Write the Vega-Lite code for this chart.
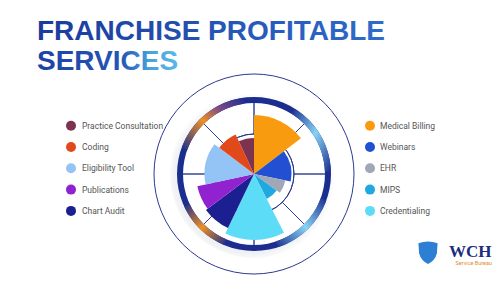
{
  "$schema": "https://vega.github.io/schema/vega-lite/v6.json",
  "width": 492,
  "height": 216,
  "autosize": {"type": "none"},
  "padding": {"left": 8, "top": 66, "right": 0, "bottom": 0},
  "background": "#ffffff",
  "title": {
    "text": "FRANCHISE PROFITABLE",
    "subtitle": "SERVICES",
    "anchor": "start",
    "frame": "group",
    "dx": 29,
    "offset": -10,
    "font": "Liberation Sans",
    "fontSize": 28,
    "fontWeight": "bold",
    "color": {"value": {"gradient": "linear", "x1": 0, "y1": 0, "x2": 1, "y2": 0, "stops": [{"offset": 0, "color": "#1a3b9c"}, {"offset": 1, "color": "#2f6ccb"}]}},
    "subtitleFont": "Liberation Sans",
    "subtitleFontSize": 28,
    "subtitleFontWeight": "bold",
    "subtitleColor": {"value": {"gradient": "linear", "x1": 0, "y1": 0, "x2": 1, "y2": 0, "stops": [{"offset": 0, "color": "#1d43a4"}, {"offset": 0.6, "color": "#2555b4"}, {"offset": 0.8, "color": "#4aa2dd"}, {"offset": 1, "color": "#5bb8e8"}]}},
    "subtitlePadding": 2
  },
  "data": {
    "values": [
      {"service": "Medical Billing", "side": "right", "angle": 52.7, "value": 59},
      {"service": "Webinars", "side": "right", "angle": 48.9, "value": 37.5},
      {"service": "EHR", "side": "right", "angle": 24.4, "value": 32},
      {"service": "MIPS", "side": "right", "angle": 27, "value": 28},
      {"service": "Credentialing", "side": "right", "angle": 52.7, "value": 66},
      {"service": "Chart Audit", "side": "left", "angle": 27.5, "value": 60},
      {"service": "Publications", "side": "left", "angle": 24.6, "value": 58},
      {"service": "Eligibility Tool", "side": "left", "angle": 49.2, "value": 49.5},
      {"service": "Coding", "side": "left", "angle": 28, "value": 43.5},
      {"service": "Practice Consultation", "side": "left", "angle": 25, "value": 36}
    ]
  },
  "layer": [
    {
      "data": {"values": [{"part": "shadow"}]},
      "mark": {"type": "arc", "theta": 0, "theta2": 6.2832, "radius": 84, "radius2": 0,
        "fill": {"gradient": "radial", "x1": 0.48, "y1": 0.52, "r1": 0, "x2": 0.48, "y2": 0.52, "r2": 0.5,
          "stops": [{"offset": 0, "color": "rgba(100,112,140,0.10)"}, {"offset": 0.9, "color": "rgba(100,112,140,0.10)"}, {"offset": 1, "color": "rgba(100,112,140,0)"}]}},
      "encoding": {}
    },
    {
      "data": {"values": [{"part": "face"}]},
      "mark": {"type": "arc", "theta": 0, "theta2": 6.2832, "radius": 71, "radius2": 0, "fill": "#ffffff"},
      "encoding": {}
    },
    {
      "data": {"values": [{"angle": 0}, {"angle": 45}, {"angle": 90}, {"angle": 135}, {"angle": 180}, {"angle": 225}, {"angle": 270}, {"angle": 315}]},
      "mark": {"type": "arc", "radius": 72, "radius2": 40, "filled": false, "stroke": "#2b3a8f", "strokeWidth": 0.9},
      "encoding": {
        "theta": {"field": "angle", "type": "quantitative", "scale": {"domain": [0, 360]}},
        "theta2": {"field": "angle"}
      }
    },
    {
      "data": {"values": [{"r": 40}, {"r": 60}]},
      "mark": {"type": "arc", "theta": 0, "theta2": 6.2832, "filled": false, "stroke": "#2b3a8f", "strokeWidth": 1},
      "encoding": {
        "radius": {"field": "r", "type": "quantitative", "scale": {"type": "linear", "domain": [0, 77], "range": [0, 77]}}
      }
    },
    {
      "data": {"values": [{"part": "ring"}]},
      "mark": {"type": "arc", "theta": 0, "theta2": 6.2832, "radius": 77, "radius2": 71, "fill": "#1b2d8f"},
      "encoding": {}
    },
    {
      "data": {"values": [{"from": 290, "to": 352}]},
      "mark": {"type": "arc", "radius": 77, "radius2": 71,
        "fill": {"gradient": "linear", "x1": 0, "y1": 1, "x2": 1, "y2": 0, "stops": [{"offset": 0, "color": "#1b2d8f"}, {"offset": 0.45, "color": "#f0901e"}, {"offset": 0.7, "color": "#7a4a86"}, {"offset": 1, "color": "#1b2d8f"}]}},
      "encoding": {
        "theta": {"field": "from", "type": "quantitative", "scale": {"domain": [0, 360]}},
        "theta2": {"field": "to"}
      }
    },
    {
      "data": {"values": [{"from": 203, "to": 245}]},
      "mark": {"type": "arc", "radius": 77, "radius2": 71,
        "fill": {"gradient": "linear", "x1": 1, "y1": 1, "x2": 0, "y2": 0, "stops": [{"offset": 0, "color": "#1b2d8f"}, {"offset": 0.5, "color": "#f0901e"}, {"offset": 1, "color": "#1b2d8f"}]}},
      "encoding": {
        "theta": {"field": "from", "type": "quantitative", "scale": {"domain": [0, 360]}},
        "theta2": {"field": "to"}
      }
    },
    {
      "data": {"values": [{"from": 32, "to": 88}]},
      "mark": {"type": "arc", "radius": 77, "radius2": 71,
        "fill": {"gradient": "linear", "x1": 0, "y1": 0, "x2": 1, "y2": 1, "stops": [{"offset": 0, "color": "#1b2d8f"}, {"offset": 0.5, "color": "#86d4f5"}, {"offset": 1, "color": "#1b2d8f"}]}},
      "encoding": {
        "theta": {"field": "from", "type": "quantitative", "scale": {"domain": [0, 360]}},
        "theta2": {"field": "to"}
      }
    },
    {
      "data": {"values": [{"from": 110, "to": 162}]},
      "mark": {"type": "arc", "radius": 77, "radius2": 71,
        "fill": {"gradient": "linear", "x1": 1, "y1": 0, "x2": 0, "y2": 1, "stops": [{"offset": 0, "color": "#1b2d8f"}, {"offset": 0.5, "color": "#86d4f5"}, {"offset": 1, "color": "#1b2d8f"}]}},
      "encoding": {
        "theta": {"field": "from", "type": "quantitative", "scale": {"domain": [0, 360]}},
        "theta2": {"field": "to"}
      }
    },
    {
      "transform": [
        {"stack": "angle", "groupby": [], "as": ["a0", "a1"]},
        {"filter": "datum.side === 'right'"}
      ],
      "mark": {"type": "arc"},
      "encoding": {
        "theta": {"field": "a0", "type": "quantitative", "scale": {"domain": [0, 360]}},
        "theta2": {"field": "a1"},
        "radius": {"field": "value", "type": "quantitative", "scale": {"type": "linear", "domain": [0, 77], "range": [0, 77]}},
        "color": {"field": "service", "type": "nominal",
          "scale": {"domain": ["Medical Billing", "Webinars", "EHR", "MIPS", "Credentialing"], "range": ["#f99b0f", "#2350d3", "#a0a8b8", "#22a8e0", "#5ddcf7"]},
          "legend": {"title": null, "orient": "none", "legendX": 356, "legendY": 53.7, "labelOffset": 4}}
      }
    },
    {
      "transform": [
        {"stack": "angle", "groupby": [], "as": ["a0", "a1"]},
        {"filter": "datum.side === 'left'"}
      ],
      "mark": {"type": "arc"},
      "encoding": {
        "theta": {"field": "a0", "type": "quantitative", "scale": {"domain": [0, 360]}},
        "theta2": {"field": "a1"},
        "radius": {"field": "value", "type": "quantitative", "scale": {"type": "linear", "domain": [0, 77], "range": [0, 77]}},
        "color": {"field": "service", "type": "nominal",
          "scale": {"domain": ["Practice Consultation", "Coding", "Eligibility Tool", "Publications", "Chart Audit"], "range": ["#7d3350", "#e2491a", "#94c4f6", "#9122cf", "#1b1f8f"]},
          "legend": {"title": null, "orient": "none", "legendX": 57, "legendY": 53.7, "labelOffset": 5}}
      }
    },
    {
      "data": {"values": [{"brand": "WCH"}]},
      "mark": {"type": "point", "opacity": 0, "filled": true, "color": "#2d7fd4"},
      "encoding": {
        "shape": {"field": "brand", "type": "nominal",
          "scale": {"range": ["M-0.8,-0.72 Q0,-1.05 0.8,-0.72 L0.74,0.1 Q0.6,0.7 0,1 Q-0.6,0.7 -0.74,0.1 Z"]},
          "legend": {"title": "Service Bureau", "titleOrient": "bottom", "titleAnchor": "end", "titleColor": "#e28a2e", "titleFont": "Roboto", "titleFontSize": 5.5, "titleFontWeight": "normal", "titlePadding": -6,
            "orient": "none", "legendX": 407, "legendY": 173, "symbolSize": 576, "symbolOpacity": 1,
            "labelFont": "Liberation Serif", "labelFontSize": 17, "labelFontWeight": "bold", "labelColor": "#1b2c7e", "labelOffset": 8,
            "encode": {"symbols": {"update": {"fill": {"value": {"gradient": "linear", "x1": 0, "y1": 0, "x2": 1, "y2": 1, "stops": [{"offset": 0, "color": "#5cc3ef"}, {"offset": 0.5, "color": "#2a78d2"}, {"offset": 1, "color": "#1b3a8f"}]}}, "opacity": {"value": 1}, "stroke": {"value": "#1b3a8f"}, "strokeWidth": {"value": 0.8}}}}}
        }
      }
    }
  ],
  "resolve": {"scale": {"color": "independent"}},
  "config": {
    "view": {"stroke": null, "fill": {"gradient": "linear", "x1": 0, "y1": 0, "x2": 0.35, "y2": 1, "stops": [{"offset": 0, "color": "#ffffff"}, {"offset": 0.5, "color": "#ffffff"}, {"offset": 1, "color": "#e2eaf5"}]}},
    "legend": {"symbolType": "circle", "symbolSize": 100, "labelFont": "Roboto", "labelFontSize": 8.5, "labelColor": "#555555", "rowPadding": 10.3, "padding": 0}
  }
}
